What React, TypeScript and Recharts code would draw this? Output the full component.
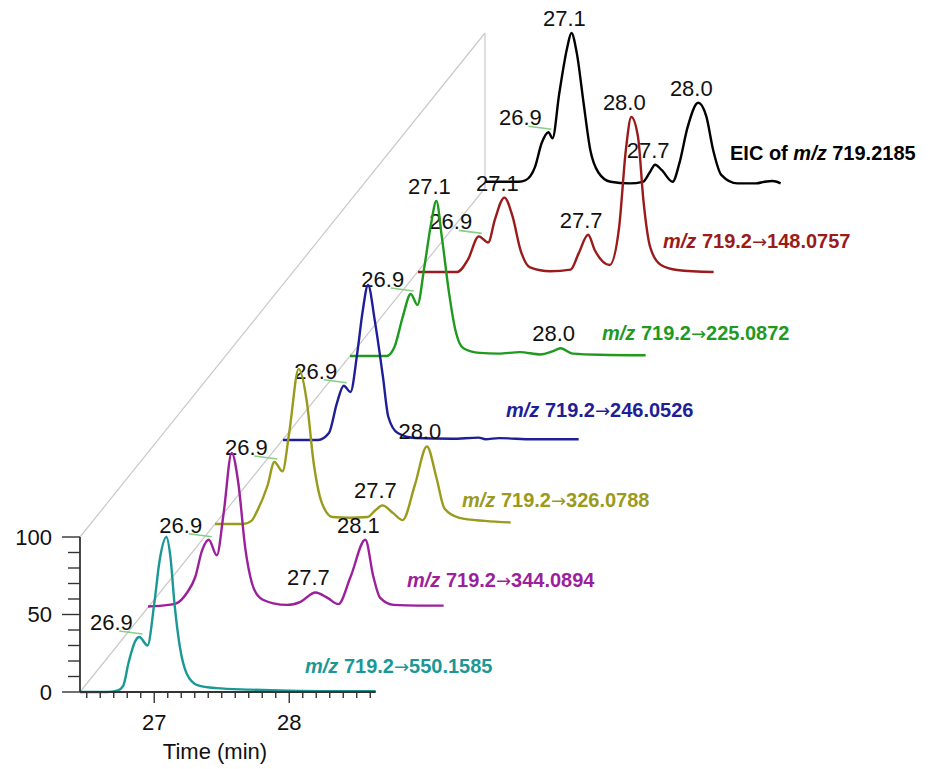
import { ComposedChart, Line, Scatter, XAxis, YAxis } from "recharts";

type Pt = [number, number];

// Normalised traces (time in min, relative intensity %)
const EIC_550: Pt[] = [
  [26.45, 0], [26.65, 0], [26.73, 1], [26.77, 4], [26.81, 19], [26.86, 33], [26.89, 35.5],
  [26.95, 30], [27.0, 57], [27.04, 85], [27.09, 100], [27.12, 87], [27.15, 57], [27.19, 29],
  [27.24, 12], [27.32, 4.5], [27.46, 2.5], [27.71, 1.5], [28.0, 0.8], [28.3, 0.5], [28.64, 0.5],
];
const EIC_344: Pt[] = [
  [26.45, 1], [26.6, 2], [26.66, 3], [26.74, 10], [26.8, 20], [26.85, 37], [26.9, 44],
  [26.96, 34], [27.01, 61], [27.07, 100], [27.12, 80], [27.17, 39], [27.22, 16], [27.28, 6.5],
  [27.38, 3], [27.48, 2], [27.58, 4], [27.69, 10], [27.78, 6.5], [27.86, 2.5], [27.95, 20],
  [28.06, 44], [28.12, 20], [28.17, 6.5], [28.27, 2], [28.45, 1.5], [28.64, 1.5],
];
const EIC_326: Pt[] = [
  [26.45, 0], [26.66, 0], [26.72, 2], [26.76, 8], [26.84, 25], [26.89, 40], [26.95, 34],
  [27.0, 59], [27.07, 100], [27.13, 79], [27.18, 40], [27.24, 14], [27.32, 4.5], [27.45, 4],
  [27.58, 4.5], [27.64, 9], [27.69, 12], [27.77, 7], [27.84, 2.5], [27.93, 25], [28.02, 50],
  [28.09, 30], [28.15, 10], [28.26, 4], [28.45, 2], [28.64, 1],
];
const EIC_246: Pt[] = [
  [26.45, 0], [26.71, 0], [26.79, 4.5], [26.85, 24], [26.9, 35], [26.95, 31], [27.0, 56],
  [27.04, 83], [27.08, 100], [27.13, 77], [27.19, 41], [27.23, 15], [27.3, 4.5], [27.43, 1.3],
  [27.7, 0.8], [27.9, 1.5], [27.95, 0.5], [28.05, 1.2], [28.3, 0.5], [28.64, 0.5],
];
const EIC_225: Pt[] = [
  [26.45, 0], [26.72, 0], [26.78, 6], [26.84, 25], [26.9, 40], [26.95, 33], [27.0, 57],
  [27.05, 85], [27.09, 100], [27.13, 77], [27.18, 43], [27.23, 17], [27.29, 5], [27.41, 2],
  [27.55, 1.5], [27.71, 2.5], [27.86, 1], [27.95, 3], [28.01, 5], [28.1, 1.5], [28.3, 0.8],
  [28.64, 0.5],
];
const EIC_148: Pt[] = [
  [26.45, 0], [26.74, 0], [26.82, 8], [26.9, 23], [26.97, 19], [27.02, 34], [27.09, 48],
  [27.15, 36], [27.21, 14], [27.28, 3], [27.43, 0.5], [27.58, 1.5], [27.64, 12], [27.71, 24],
  [27.76, 14], [27.87, 4.5], [27.94, 29], [27.99, 79], [28.03, 100], [28.08, 87], [28.12, 46],
  [28.17, 16], [28.25, 4.5], [28.37, 1.3], [28.64, 0],
];
const EIC_FULL: Pt[] = [
  [26.45, 4], [26.6, 4], [26.7, 4], [26.75, 5], [26.82, 13.5], [26.87, 29], [26.92, 36],
  [26.95, 32], [27.0, 61], [27.06, 91], [27.09, 100], [27.13, 87], [27.18, 55], [27.23, 24.5],
  [27.29, 10], [27.38, 4], [27.52, 3], [27.62, 4], [27.67, 10], [27.71, 15], [27.76, 11.5],
  [27.84, 4], [27.89, 16], [27.95, 39], [28.03, 55], [28.09, 46], [28.14, 24.5], [28.2, 8.5],
  [28.32, 3], [28.46, 3], [28.52, 4], [28.58, 4.5], [28.64, 3],
];

// Annotated apex times per trace
const PEAKS_550 = [26.89];
const PEAKS_344 = [26.9, 27.69, 28.06];
const PEAKS_326 = [26.89, 27.69, 28.02];
const PEAKS_246 = [26.9];
const PEAKS_225 = [26.9, 27.09, 28.01];
const PEAKS_148 = [26.9, 27.09, 27.71, 28.03];
const PEAKS_FULL = [26.92, 27.09, 27.71, 28.03];

const X_TICKS = [
  26.5, 26.6, 26.7, 26.8, 26.9, 27, 27.1, 27.2, 27.3, 27.4, 27.5,
  27.6, 27.7, 27.8, 27.9, 28, 28.1, 28.2, 28.3, 28.4, 28.5, 28.6,
];
const X_LABELED = [27, 28];
const Y_TICKS = [0, 10, 20, 30, 40, 50, 60, 70, 80, 90, 100];
const Y_LABELED = [0, 50, 100];

const PRECURSOR = "719.2";

// layout
const T_MIN = 26.45;
const T_MAX = 28.64;
const PX_PER_MIN = 135;
const PLOT_W = (T_MAX - T_MIN) * PX_PER_MIN;
const PLOT_H = 155;
const AXIS_W = 60;
const AXIS_H = 70;
const MARGIN = { top: 40, right: 10, left: 20, bottom: 0 };
const CHART_W = MARGIN.left + AXIS_W + PLOT_W + MARGIN.right;
const CHART_H = MARGIN.top + PLOT_H + AXIS_H;
const PLOT_LEFT = 80;
const PLOT_TOP = 537;
const PLOT_BOTTOM = PLOT_TOP + PLOT_H;
const STEP_X = 67.5;
const STEP_Y = 84;
const DEPTH = 6;

const FONT = '"Liberation Sans", Arial, Helvetica, sans-serif';
const LABEL_SIZE = 22;
const AXIS_COLOR = "#333";
const GRID_COLOR = "#c9c9c9";
const LEADER_COLOR = "#86cf86";

interface Trace {
  key: string;
  product: string | null;
  color: string;
  data: Pt[];
  peaks: number[];
  nameX: number;
  nameY: number;
}

// front (index 0) to back
const TRACES: Trace[] = [
  { key: "550", product: "550.1585", color: "#1b9896", data: EIC_550, peaks: PEAKS_550, nameX: 305, nameY: 666 },
  { key: "344", product: "344.0894", color: "#9c1f9c", data: EIC_344, peaks: PEAKS_344, nameX: 407, nameY: 580 },
  { key: "326", product: "326.0788", color: "#9a9a1c", data: EIC_326, peaks: PEAKS_326, nameX: 462, nameY: 500 },
  { key: "246", product: "246.0526", color: "#1e1e98", data: EIC_246, peaks: PEAKS_246, nameX: 506, nameY: 410 },
  { key: "225", product: "225.0872", color: "#1f9a1f", data: EIC_225, peaks: PEAKS_225, nameX: 602, nameY: 333 },
  { key: "148", product: "148.0757", color: "#9a1b1b", data: EIC_148, peaks: PEAKS_148, nameX: 663, nameY: 241 },
  { key: "full", product: null, color: "#000", data: EIC_FULL, peaks: PEAKS_FULL, nameX: 730, nameY: 153 },
];

function TimeTick(props: any) {
  const { x, y, payload } = props;
  const major = X_LABELED.includes(payload.value);
  return (
    <g>
      <line x1={x} y1={y} x2={x} y2={y + (major ? 11 : 6)} stroke={AXIS_COLOR} strokeWidth={1.4} />
      {major && (
        <text x={x} y={y + 38} textAnchor="middle" fontSize={LABEL_SIZE} fontFamily={FONT} fill="#111">
          {payload.value}
        </text>
      )}
    </g>
  );
}

function IntensityTick(props: any) {
  const { x, y, payload } = props;
  const major = Y_LABELED.includes(payload.value);
  return (
    <g>
      <line x1={x - (major ? 18 : 12)} y1={y} x2={x} y2={y} stroke={AXIS_COLOR} strokeWidth={1.4} />
      {major && (
        <text x={x - 28} y={y + 8} textAnchor="end" fontSize={LABEL_SIZE} fontFamily={FONT} fill="#111">
          {payload.value}
        </text>
      )}
    </g>
  );
}

// retention-time label; shoulders get a side label with a leader line
function PeakMark(props: any) {
  const { cx, cy, payload } = props;
  if (cx == null || cy == null) return <g />;
  const shoulder = payload.t < 27;
  const text = payload.t.toFixed(1);
  if (shoulder) {
    return (
      <g>
        <line x1={cx - 20} y1={cy - 6} x2={cx + 3} y2={cy - 3} stroke={LEADER_COLOR} strokeWidth={1.6} />
        <text x={cx - 28} y={cy - 7} textAnchor="middle" fontSize={LABEL_SIZE} fontFamily={FONT} fill="#111">
          {text}
        </text>
      </g>
    );
  }
  return (
    <text x={cx - 7} y={cy - 7} textAnchor="middle" fontSize={LABEL_SIZE} fontFamily={FONT} fill="#111">
      {text}
    </text>
  );
}

function TraceChart({ trace, depth }: { trace: Trace; depth: number }) {
  const front = depth === 0;
  const points = trace.data.map(([t, I]) => ({ t, I }));
  const peaks = trace.peaks.map((t) => points.find((p) => p.t === t)!).filter(Boolean);
  return (
    <div
      style={{
        position: "absolute",
        left: PLOT_LEFT - MARGIN.left - AXIS_W + depth * STEP_X,
        top: PLOT_TOP - MARGIN.top - depth * STEP_Y,
      }}
    >
      <ComposedChart width={CHART_W} height={CHART_H} margin={MARGIN}>
        <XAxis
          type="number"
          dataKey="t"
          domain={[T_MIN, T_MAX]}
          ticks={X_TICKS}
          interval={0}
          height={AXIS_H}
          tickSize={0}
          tickMargin={0}
          tickLine={false}
          axisLine={front ? { stroke: AXIS_COLOR, strokeWidth: 1.8 } : false}
          tick={front ? (p: any) => <TimeTick {...p} /> : false}
        />
        <YAxis
          type="number"
          dataKey="I"
          domain={[0, 100]}
          ticks={Y_TICKS}
          interval={0}
          width={AXIS_W}
          tickSize={0}
          tickMargin={0}
          tickLine={false}
          axisLine={front ? { stroke: AXIS_COLOR, strokeWidth: 1.8 } : false}
          tick={front ? (p: any) => <IntensityTick {...p} /> : false}
        />
        <Line
          data={points}
          dataKey="I"
          type="monotone"
          stroke={trace.color}
          strokeWidth={2.4}
          dot={false}
          activeDot={false}
          isAnimationActive={false}
        />
        <Scatter data={peaks} dataKey="I" shape={(p: any) => <PeakMark {...p} />} isAnimationActive={false} />
      </ComposedChart>
    </div>
  );
}

function TraceName({ trace }: { trace: Trace }) {
  return (
    <div
      style={{
        position: "absolute",
        left: trace.nameX,
        top: trace.nameY - 12,
        lineHeight: "24px",
        fontSize: 20,
        fontWeight: "bold",
        fontFamily: FONT,
        color: trace.color,
        whiteSpace: "nowrap",
      }}
    >
      {trace.product ? (
        <>
          <i>m/z</i> {PRECURSOR}
          <span style={{ fontFamily: '"DejaVu Sans", sans-serif', fontSize: 18, fontWeight: "normal" }}>→</span>
          {trace.product}
        </>
      ) : (
        <>
          EIC of <i>m/z</i> 719.2185
        </>
      )}
    </div>
  );
}

export default function App() {
  const backX = PLOT_LEFT + DEPTH * STEP_X;
  return (
    <div
      style={{
        position: "absolute",
        left: 0,
        top: 0,
        width: 947,
        height: 769,
        overflow: "hidden",
        background: "#fff",
        fontFamily: FONT,
      }}
    >
      <svg width={947} height={769} style={{ position: "absolute", left: 0, top: 0 }}>
        <line x1={PLOT_LEFT} y1={PLOT_BOTTOM} x2={backX} y2={PLOT_BOTTOM - DEPTH * STEP_Y} stroke={GRID_COLOR} strokeWidth={1.2} />
        <line x1={PLOT_LEFT} y1={PLOT_TOP} x2={backX} y2={PLOT_TOP - DEPTH * STEP_Y} stroke={GRID_COLOR} strokeWidth={1.2} />
        <line x1={backX} y1={PLOT_TOP - DEPTH * STEP_Y} x2={backX} y2={PLOT_BOTTOM - DEPTH * STEP_Y} stroke={GRID_COLOR} strokeWidth={1.2} />
        <text x={215} y={759} textAnchor="middle" fontSize={LABEL_SIZE} fontFamily={FONT} fill="#111">
          Time (min)
        </text>
      </svg>
      {TRACES.map((tr, i) => ({ tr, i }))
        .reverse()
        .map(({ tr, i }) => (
          <TraceChart key={tr.key} trace={tr} depth={i} />
        ))}
      {TRACES.map((tr) => (
        <TraceName key={tr.key} trace={tr} />
      ))}
    </div>
  );
}
